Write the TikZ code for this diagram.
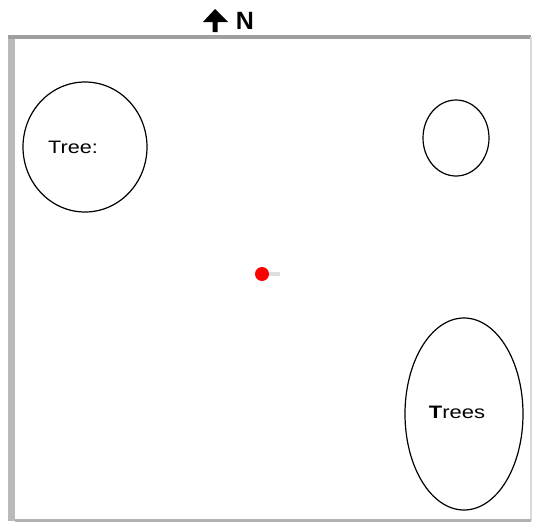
\documentclass[tikz,border=0pt]{standalone}
\usepackage{fontspec}
\setmainfont{Liberation Sans}
\begin{document}
\begin{tikzpicture}[x=1pt,y=-1pt]
  \tikzset{
    tree/.style={draw=black, line width=1.2pt},
    label/.style={inner sep=0pt, font=\fontsize{18}{20}\selectfont}
  }
  \useasboundingbox (0,0) rectangle (536,522);
  % Draw frame
  \fill[gray!55] (8,36) rectangle (15,521);
  \draw[line width=3.5pt, gray!75] (8,37)--(531,37);
  \draw[line width=1.5pt, gray!30] (531,37)--(531,521);
  \draw[line width=3pt, gray!60] (15,520)--(531,520);
  % Draw north arrow
  \fill[black] (203,22)--(215,9)--(228,22)--(217.5,22)--(217.5,32)--(212.5,32)--(212.5,22)--cycle;
  \node[inner sep=0pt, font=\bfseries\fontsize{25}{26}\selectfont] (north) at (245,21) {N};
  % Draw trees
  \draw[tree] (85,147) ellipse (62 and 65);
  \node[label] (treeA) at (73,147) {\scalebox{1.2}[1]{Tree:}};
  \draw[tree] (456,138) ellipse (33 and 38);
  \draw[tree] (464,414) ellipse (59 and 96);
  \node[label] (treeC) at (457,412) {\scalebox{1.22}[1]{\textbf{T}rees}};
  % Draw position
  \fill[gray!25] (266,272) rectangle (280,276);
  \fill[red] (262,274) circle (7);
\end{tikzpicture}
\end{document}
